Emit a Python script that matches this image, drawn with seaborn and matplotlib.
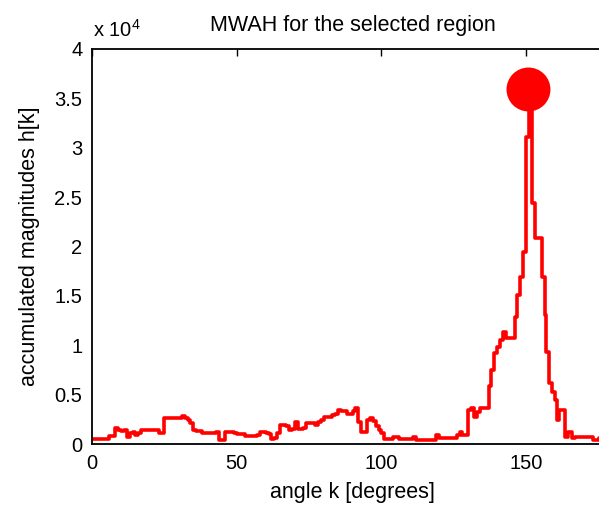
import matplotlib
matplotlib.use("Agg")
import matplotlib.pyplot as plt
import seaborn as sns
import pandas as pd

# MWAH histogram: angle (degrees) vs accumulated magnitude
angle_deg = [0, 5, 6, 8, 9, 10, 11, 12, 13, 14, 15, 16, 17, 22, 23, 25, 30, 31, 32,
             33, 34, 35, 36, 38, 42, 43, 44, 46, 49, 50, 53, 57, 58, 60, 61, 62,
             63, 64, 65, 67, 68, 69, 70, 71, 73, 74, 76, 77, 78, 79, 80, 83, 84,
             85, 86, 88, 90, 91, 92, 93, 95, 96, 97, 98, 99, 100, 101, 104, 106,
             111, 112, 118, 119, 120, 126, 127, 128, 130, 131, 132, 133, 134, 136,
             137, 138, 139, 140, 141, 142, 143, 145, 146, 147, 148, 149, 150, 151,
             152, 153, 155.5, 156.5, 157, 158, 159, 160, 160.7, 161.5, 163.5, 164.5,
             166, 167, 168, 171, 173, 175, 180]
magnitude = [480, 480, 800, 1590, 1400, 1310, 1420, 740, 1080, 1250, 900, 1100, 1420,
             1420, 1150, 2600, 2600, 2840, 2600, 2430, 2090, 1420, 1300, 1150, 1150,
             1250, 410, 1250, 1080, 1000, 810, 910, 1250, 1100, 1000, 470, 600, 1100,
             1920, 1800, 1420, 1500, 2200, 1500, 1590, 2090, 2090, 1900, 2200, 2430,
             2770, 2940, 3000, 3440, 3300, 3000, 3300, 3610, 2260, 1250, 2430, 2600,
             2300, 1800, 1420, 1080, 470, 740, 470, 740, 410, 410, 910, 600, 900, 1250,
             950, 3440, 3610, 2770, 3270, 3610, 3610, 5900, 7490, 9180, 9850, 10530,
             11370, 10700, 10700, 12890, 15090, 16940, 19470, 31120, 35900, 24370,
             20830, 16940, 13060, 9350, 6150, 5300, 4460, 2430, 3440, 740, 1250, 570,
             700, 700, 700, 400, 600, 600]
peak_angle = [150.8]
peak_value = [35900]

ytick_vals = [0, 5000, 10000, 15000, 20000, 25000, 30000, 35000, 40000]
ytick_labels = ["0", "0.5", "1", "1.5", "2", "2.5", "3", "3.5", "4"]
xtick_vals = [0, 50, 100, 150]

sns.set_style("white")
plt.rcParams["font.family"] = ["Liberation Sans", "DejaVu Sans"]
plt.rcParams["mathtext.fontset"] = "custom"
plt.rcParams["mathtext.rm"] = "Liberation Sans"
plt.rcParams["mathtext.it"] = "Liberation Sans"
plt.rcParams["text.color"] = "black"
plt.rcParams["axes.labelcolor"] = "black"
plt.rcParams["xtick.color"] = "black"
plt.rcParams["ytick.color"] = "black"

W, H = 599, 505
fig = plt.figure(figsize=(W / 100, H / 100), dpi=100)
fig.patch.set_facecolor("white")
left, right_px, top, bottom = 92, 613, 49, 444
ax = fig.add_axes([left / W, (H - bottom) / H, (right_px - left) / W, (bottom - top) / H])

df = pd.DataFrame({"angle": angle_deg, "mag": magnitude})
sns.lineplot(data=df, x="angle", y="mag", ax=ax, color="#ff0000", lw=2.6,
             drawstyle="steps-post", estimator=None, sort=False)
sns.scatterplot(x=peak_angle, y=peak_value, ax=ax, color="#ff0000", s=1000,
                edgecolor="none", zorder=5)

ax.set_xlim(0, 180)
ax.set_ylim(0, 40000)
ax.set_xticks(xtick_vals)
ax.set_xticklabels([str(v) for v in xtick_vals])
ax.set_yticks(ytick_vals)
ax.set_yticklabels(ytick_labels)
ax.tick_params(direction="in", length=5, width=1, top=True, right=True,
               labelsize=14.5, pad=7, colors="black")
for s in ax.spines.values():
    s.set_visible(True)
    s.set_color("black")
    s.set_linewidth(1.3)

ax.set_xlabel("angle k [degrees]", fontsize=15.5, labelpad=7, color="black")
ax.set_ylabel("accumulated magnitudes h[k]", fontsize=15.5, labelpad=10, color="black")
ax.set_title("MWAH for the selected region", fontsize=15.5, pad=13, color="black")
fig.text(93 / W, 1 - 37 / H, r"x 10$^{4}$", fontsize=14.5, ha="left",
         va="baseline", color="black")

fig.savefig("out.png", dpi=100, facecolor="white")
